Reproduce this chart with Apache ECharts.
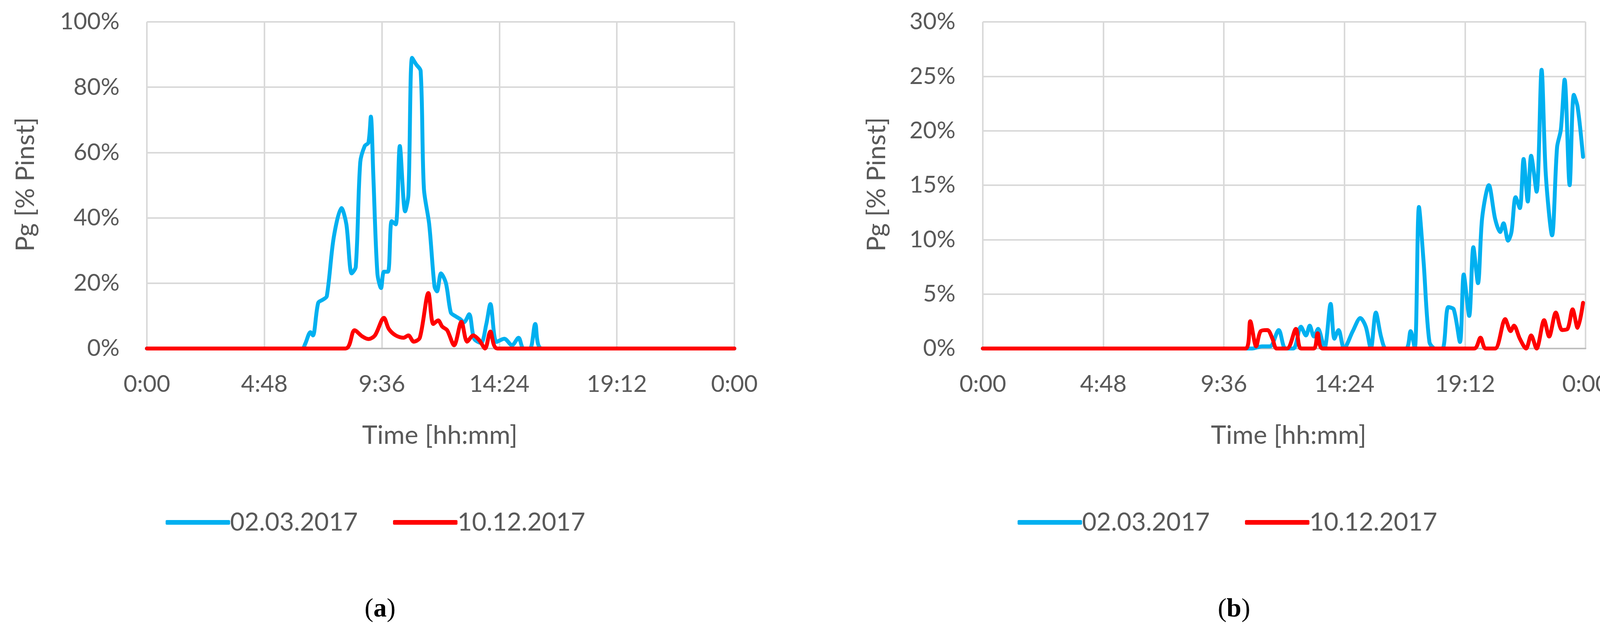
<!DOCTYPE html>
<html>
<head>
<meta charset="utf-8">
<script src="https://cdn.jsdelivr.net/npm/echarts@6/dist/echarts.min.js"></script>
<style>
  html, body { margin: 0; padding: 0; background: #fff; }
  #chart { width: 4133px; height: 1615px; }
</style>
</head>
<body>
<div id="chart"></div>
<script>
// time in minutes since 0:00, values in % of Pinst
const seriesNames = ['02.03.2017', '10.12.2017'];

const blueA = [[0,0],[381,0],[388,1.4],[401,5],[407,4],[420,14],[432,15],[441,16],[458,34],[477,43],[489,38],
  [502,23],[512,25],[523,57],[534,62],[543,63],[549,71],[555,53],[565,23],[574,18.5],[581,23.5],[591,23.5],
  [600,39],[610,38],[620,62],[633,42],[641,47],[650,89],[660,87],[671,85],[679,49],[692,38],[705,19],[711,17.5],
  [721,23],[733,20],[745,11],[755,10],[768,9],[777,8],[790,10.5],[802,3],[819,1.7],[832,7.5],[842,13.6],[857,2],
  [876,3],[895,1],[911,3.3],[923,0],[939,0],[952,7.5],[968,0],[1440,0]];

const redA = [[0,0],[487,0],[509,5.6],[528,3.7],[543,2.9],[559,4],[581,9.4],[593,6],[610,4],[629,3.3],[641,4],
  [654,2.1],[669,3.3],[690,17],[702,7.5],[714,8.6],[724,6.7],[736,5.6],[753,1],[771,8.2],[785,2.1],[800,4],
  [815,2.5],[829,0],[842,5.2],[859,0],[1440,0]];

const blueB = [[0,0],[643,0],[667,0.2],[686,0.2],[707,1.7],[723,0],[742,0],[760,2],[772,1.2],[781,2.1],[791,1.1],
  [801,1.8],[816,0],[831,4.1],[840,0.9],[850,1.7],[863,0],[884,1.6],[902,2.8],[915,2],[927,0],[939,3.3],[952,1],
  [964,0],[1011,0],[1022,1.6],[1032,0],[1042,13],[1053,8],[1067,0.6],[1081,0],[1098,0],[1112,3.8],[1125,3.6],
  [1140,0.6],[1149,6.8],[1162,3],[1172,9.3],[1183,6],[1193,12],[1209,15],[1224,11.9],[1236,10.7],[1244,11.5],
  [1255,9.9],[1263,10.7],[1273,13.9],[1283,12.9],[1292,17.4],[1302,13.5],[1310,17.7],[1323,14.4],[1335,25.6],
  [1345,16],[1360,10.4],[1372,18.5],[1381,20.1],[1390,24.7],[1402,15],[1412,23.3],[1421,22.2],[1434,17.6]];

const redB = [[0,0],[628,0],[639,2.5],[653,0.2],[664,1.6],[680,1.7],[692,0.9],[702,0],[727,0],[748,1.8],[760,0],
  [791,0],[800,1.4],[812,0],[1174,0],[1189,1],[1201,0],[1224,0],[1248,2.7],[1261,1.6],[1269,2.1],[1283,0.9],
  [1298,0],[1310,1.2],[1323,0],[1341,2.6],[1353,1.1],[1369,3.3],[1384,1.7],[1397,1.8],[1409,3.6],[1421,1.9],[1434,4.2]];

const colors = ['#00b0f0', '#ff0000'];
const font = 'Lato';
const grey = '#595959';

function fmtTime(v) {
  const m = v % 1440;
  return Math.floor(m / 60) + ':' + String(m % 60).padStart(2, '0');
}

function xAx(i) {
  return {
    type: 'value', gridIndex: i, min: 0, max: 1440, interval: 288,
    axisLine: { show: true, lineStyle: { color: '#bfbfbf', width: 4 } },
    axisTick: { show: false },
    splitLine: { show: true, lineStyle: { color: '#d9d9d9', width: 4 } },
    axisLabel: { formatter: fmtTime, fontSize: 60, color: grey, fontFamily: font, margin: 62 }
  };
}
function yAx(i, max, interval) {
  return {
    type: 'value', gridIndex: i, min: 0, max: max, interval: interval,
    axisLine: { show: false }, axisTick: { show: false },
    splitLine: { show: true, lineStyle: { color: '#d9d9d9', width: 4 } },
    axisLabel: { formatter: '{value}%', fontSize: 60, color: grey, fontFamily: font, margin: 70 }
  };
}
function line(name, i, data, color) {
  return {
    name: name, type: 'line', xAxisIndex: i, yAxisIndex: i, data: data,
    smooth: 0.3, showSymbol: false, symbol: 'none',
    lineStyle: { color: color, width: 10, cap: 'round', join: 'round' },
    itemStyle: { color: color }
  };
}
function legend(left) {
  return {
    data: seriesNames, left: left, top: 1300, itemWidth: 165, itemHeight: 12, itemGap: 90,
    icon: 'roundRect', textStyle: { fontSize: 64, color: grey, fontFamily: font, padding: [0, 0, 0, -5] }
  };
}
function label(x, y, text, rot) {
  return {
    type: 'text', x: x, y: y, rotation: rot || 0,
    style: { text: text, fontSize: 66, fill: grey, fontFamily: font, align: 'center', verticalAlign: 'middle' }
  };
}
function panelTag(x, letter) {
  return {
    type: 'text', x: x, y: 1560,
    style: {
      text: '(' + '{b|' + letter + '})', fontSize: 68, fill: '#000', fontFamily: 'Liberation Serif',
      align: 'center', verticalAlign: 'middle',
      rich: { b: { fontWeight: 'bold', fontSize: 68, fontFamily: 'Liberation Serif', fill: '#000' } }
    }
  };
}

const chart = echarts.init(document.getElementById('chart'));
chart.setOption({
  animation: false,
  grid: [
    { left: 376, top: 56, width: 1504, height: 836 },
    { left: 2516, top: 56, width: 1543, height: 836 }
  ],
  xAxis: [xAx(0), xAx(1)],
  yAxis: [yAx(0, 100, 20), yAx(1, 30, 5)],
  legend: [legend(419), legend(2600)],
  series: [
    line(seriesNames[0], 0, blueA, colors[0]),
    line(seriesNames[1], 0, redA, colors[1]),
    line(seriesNames[0], 1, blueB, colors[0]),
    line(seriesNames[1], 1, redB, colors[1])
  ],
  graphic: [
    label(1126, 1115, 'Time [hh:mm]'),
    label(3299, 1115, 'Time [hh:mm]'),
    label(66, 472, 'Pg [% Pinst]', Math.PI / 2),
    label(2245, 472, 'Pg [% Pinst]', Math.PI / 2),
    panelTag(973, 'a'),
    panelTag(3159, 'b')
  ]
});
</script>
</body>
</html>
